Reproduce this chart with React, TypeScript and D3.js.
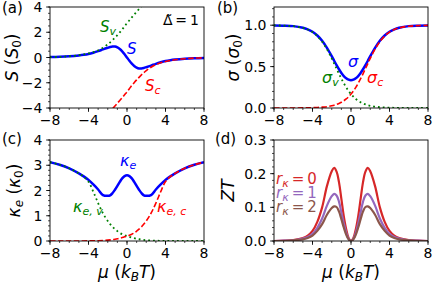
import React from "react";
import * as d3 from "d3";

// chemical potential grid (k_B T)
const mu = [-8, -7, -6, -5, -4.5, -4, -3.5, -3, -2.5, -2, -1.75, -1.5, -1.25, -1, -0.75, -0.5, -0.25, 0,
  0.25, 0.5, 0.75, 1, 1.25, 1.5, 1.75, 2, 2.5, 3, 3.5, 4, 4.5, 5, 6, 7, 8];

// (a) Seebeck
const seebeck = [0.03, 0.05, 0.09, 0.16, 0.21, 0.28, 0.38, 0.5, 0.64, 0.77, 0.83, 0.87, 0.87, 0.8, 0.67, 0.49, 0.26, 0,
  -0.26, -0.49, -0.67, -0.8, -0.87, -0.87, -0.83, -0.77, -0.64, -0.5, -0.38, -0.28, -0.21, -0.16, -0.09, -0.05, -0.03];
const seebeckV = [0.03, 0.05, 0.1, 0.18, 0.24, 0.32, 0.42, 0.56, 0.77, 1.04, 1.2, 1.38, 1.57, 1.77, 1.99, 2.22, 2.47, 2.72,
  2.95, 3.18, 3.4, 3.62, 3.84, 4.06, 4.28, 4.5];
const seebeckC = [null, null, null, null, null, null, null, null, null, -4.5, -4.28, -4.06, -3.84, -3.62, -3.4, -3.18, -2.95, -2.72,
  -2.47, -2.22, -1.99, -1.77, -1.57, -1.38, -1.2, -1.04, -0.77, -0.56, -0.42, -0.32, -0.24, -0.18, -0.1, -0.05, -0.03];

// (b) conductivity
const sigma = [0.998, 0.995, 0.989, 0.969, 0.95, 0.921, 0.876, 0.812, 0.727, 0.626, 0.571, 0.518, 0.468, 0.423, 0.386, 0.359, 0.342, 0.336,
  0.342, 0.359, 0.386, 0.423, 0.468, 0.518, 0.571, 0.626, 0.727, 0.812, 0.876, 0.921, 0.95, 0.969, 0.989, 0.995, 0.998];
const sigmaV = [0.998, 0.995, 0.988, 0.968, 0.948, 0.917, 0.87, 0.802, 0.711, 0.599, 0.537, 0.475, 0.413, 0.354, 0.299, 0.25, 0.206, 0.168,
  0.136, 0.109, 0.087, 0.069, 0.055, 0.043, 0.034, 0.027, 0.016, 0.01, 0.006, 0.004, 0.002, 0.001, 0.0005, 0.0002, 0.0001];
const sigmaC = [0.0001, 0.0002, 0.0005, 0.001, 0.002, 0.004, 0.006, 0.01, 0.016, 0.027, 0.034, 0.043, 0.055, 0.069, 0.087, 0.109, 0.136, 0.168,
  0.206, 0.25, 0.299, 0.354, 0.413, 0.475, 0.537, 0.599, 0.711, 0.802, 0.87, 0.917, 0.948, 0.968, 0.988, 0.995, 0.998];

// (c) electronic thermal conductivity
const kappa = [3.12, 3.02, 2.88, 2.68, 2.56, 2.42, 2.24, 2.04, 1.82, 1.79, 1.81, 1.9, 2.03, 2.18, 2.34, 2.48, 2.57, 2.6,
  2.57, 2.48, 2.34, 2.18, 2.03, 1.9, 1.81, 1.79, 1.82, 2.04, 2.24, 2.42, 2.56, 2.68, 2.88, 3.02, 3.12];
const kappaV = [3.12, 3.02, 2.88, 2.68, 2.55, 2.35, 1.95, 1.5, 1.1, 0.79, 0.67, 0.56, 0.47, 0.39, 0.32, 0.27, 0.23, 0.2,
  0.165, 0.135, 0.11, 0.088, 0.07, 0.055, 0.043, 0.034, 0.02, 0.012, 0.007, 0.004, 0.002, 0.001, 0.0004, 0.0001, 0];
const kappaC = [0, 0.0001, 0.0004, 0.001, 0.002, 0.004, 0.007, 0.012, 0.02, 0.034, 0.043, 0.055, 0.07, 0.088, 0.11, 0.135, 0.165, 0.2,
  0.23, 0.27, 0.32, 0.39, 0.47, 0.56, 0.67, 0.79, 1.1, 1.5, 1.95, 2.35, 2.55, 2.68, 2.88, 3.02, 3.12];

// (d) figure of merit
const zt0 = [0, 0.001, 0.003, 0.009, 0.016, 0.03, 0.057, 0.1, 0.163, 0.207, 0.217, 0.206, 0.175, 0.125, 0.074, 0.035, 0.009, 0,
  0.009, 0.035, 0.074, 0.125, 0.175, 0.206, 0.217, 0.207, 0.163, 0.1, 0.057, 0.03, 0.016, 0.009, 0.003, 0.001, 0];
const zt1 = [0, 0.001, 0.002, 0.007, 0.012, 0.021, 0.039, 0.067, 0.105, 0.133, 0.14, 0.135, 0.117, 0.085, 0.052, 0.025, 0.0065, 0,
  0.0065, 0.025, 0.052, 0.085, 0.117, 0.135, 0.14, 0.133, 0.105, 0.067, 0.039, 0.021, 0.012, 0.007, 0.002, 0.001, 0];
const zt2 = [0, 0, 0.002, 0.005, 0.009, 0.016, 0.03, 0.05, 0.078, 0.098, 0.103, 0.101, 0.088, 0.065, 0.04, 0.019, 0.005, 0,
  0.005, 0.019, 0.04, 0.065, 0.088, 0.101, 0.103, 0.098, 0.078, 0.05, 0.03, 0.016, 0.009, 0.005, 0.002, 0, 0];

const xTicks = [-8, -4, 0, 4, 8];
const xMinor = d3.range(-8, 8.01, 1);

const W = 154;
const H = 101;
const FONT = "DejaVu Sans";

const fmt = (v: number, digits: number) => v.toFixed(digits).replace("-", "\u2212");

function Panel({ id, left, top, yDomain, yTicks, yMinor, digits, tag, tagX, tagY, children }: any) {
  const x = d3.scaleLinear().domain([-8, 8]).range([0, W]);
  const y = d3.scaleLinear().domain(yDomain).range([H, 0]);
  return (
    <g transform={`translate(${left},${top})`}>
      <defs>
        <clipPath id={id}>
          <rect width={W} height={H} />
        </clipPath>
      </defs>
      <g clipPath={`url(#${id})`}>{children(x, y)}</g>
      <rect width={W} height={H} fill="none" stroke="#000" strokeWidth={0.9} />
      {xMinor.map((t) => (
        <line key={"xm" + t} x1={x(t)} x2={x(t)} y1={H} y2={H + 2} stroke="#000" strokeWidth={0.7} />
      ))}
      {xTicks.map((t) => (
        <g key={"x" + t}>
          <line x1={x(t)} x2={x(t)} y1={H} y2={H + 3.8} stroke="#000" strokeWidth={0.9} />
          <text x={x(t)} y={H + 17} textAnchor="middle" fontSize={14}>{fmt(t, 0)}</text>
        </g>
      ))}
      {yMinor.map((t: number) => (
        <line key={"ym" + t} x1={-2} x2={0} y1={y(t)} y2={y(t)} stroke="#000" strokeWidth={0.7} />
      ))}
      {yTicks.map((t: number) => (
        <g key={"y" + t}>
          <line x1={-3.8} x2={0} y1={y(t)} y2={y(t)} stroke="#000" strokeWidth={0.9} />
          <text x={-7.5} y={y(t)} dy="0.36em" textAnchor="end" fontSize={14}>{fmt(t, digits)}</text>
        </g>
      ))}
      <text x={tagX - left} y={tagY - top} fontSize={15}>{tag}</text>
    </g>
  );
}

const line = (x: any, y: any, ys: (number | null)[]) =>
  d3
    .line<number | null>()
    .defined((d) => d != null)
    .x((_, i) => x(mu[i]))
    .y((d) => y(d as number))
    .curve(d3.curveCatmullRom)(ys) || "";

export default function App() {
  const blue = "#0000ff";
  const green = "#008000";
  const red = "#ff0000";
  const dash = "5.5,2.4";
  const dot = "1.8,3";
  return (
    <svg width={436} height={291} style={{ position: "absolute", left: 0, top: 0, background: "#fff" }}
      fontFamily={FONT} fill="#000">
      {/* (a) */}
      <Panel id="ca" left={50} top={7} yDomain={[-4, 4]} yTicks={[-4, -2, 0, 2, 4]}
        yMinor={d3.range(-4, 4.01, 0.5)} digits={0} tag="(a)" tagX={2} tagY={13}>
        {(x: any, y: any) => (
          <>
            <path d={line(x, y, seebeck)} fill="none" stroke={blue} strokeWidth={2.5} />
            <path d={line(x, y, seebeckV)} fill="none" stroke={green} strokeWidth={1.8} strokeDasharray={dot} />
            <path d={line(x, y, seebeckC)} fill="none" stroke={red} strokeWidth={1.6} strokeDasharray={dash} />
          </>
        )}
      </Panel>
      {/* (b) */}
      <Panel id="cb" left={274} top={7} yDomain={[0, 1.22]} yTicks={[0, 0.5, 1]}
        yMinor={d3.range(0, 1.21, 0.1)} digits={1} tag="(b)" tagX={217} tagY={13}>
        {(x: any, y: any) => (
          <>
            <path d={line(x, y, sigma)} fill="none" stroke={blue} strokeWidth={2.5} />
            <path d={line(x, y, sigmaV)} fill="none" stroke={green} strokeWidth={1.8} strokeDasharray={dot} />
            <path d={line(x, y, sigmaC)} fill="none" stroke={red} strokeWidth={1.6} strokeDasharray={dash} />
          </>
        )}
      </Panel>
      {/* (c) */}
      <Panel id="cc" left={50} top={140} yDomain={[0, 4]} yTicks={[0, 1, 2, 3, 4]}
        yMinor={d3.range(0, 4.01, 0.2)} digits={0} tag="(c)" tagX={2} tagY={144}>
        {(x: any, y: any) => (
          <>
            <path d={line(x, y, kappa)} fill="none" stroke={blue} strokeWidth={2.5} />
            <path d={line(x, y, kappaV)} fill="none" stroke={green} strokeWidth={1.8} strokeDasharray={dot} />
            <path d={line(x, y, kappaC)} fill="none" stroke={red} strokeWidth={1.6} strokeDasharray={dash} />
          </>
        )}
      </Panel>
      {/* (d) */}
      <Panel id="cd" left={274} top={140} yDomain={[0, 0.3]} yTicks={[0, 0.1, 0.2, 0.3]}
        yMinor={d3.range(0, 0.301, 0.02)} digits={1} tag="(d)" tagX={215} tagY={144}>
        {(x: any, y: any) => (
          <>
            <path d={line(x, y, zt0)} fill="none" stroke="#d62728" strokeWidth={2.2} />
            <path d={line(x, y, zt1)} fill="none" stroke="#9467bd" strokeWidth={2.2} />
            <path d={line(x, y, zt2)} fill="none" stroke="#8c564b" strokeWidth={2.2} />
          </>
        )}
      </Panel>

      {/* axis labels */}
      <text transform="translate(18,57.5) rotate(-90)" textAnchor="middle" fontSize={17}>
        <tspan fontStyle="italic">S</tspan> (<tspan fontStyle="italic">S</tspan>
        <tspan fontSize={12} dy={3}>0</tspan><tspan dy={-3}>)</tspan>
      </text>
      <text transform="translate(239,57.5) rotate(-90)" textAnchor="middle" fontSize={17}>
        <tspan fontStyle="italic">σ</tspan> (<tspan fontStyle="italic">σ</tspan>
        <tspan fontSize={12} dy={3}>0</tspan><tspan dy={-3}>)</tspan>
      </text>
      <text transform="translate(20,190.5) rotate(-90)" textAnchor="middle" fontSize={17}>
        <tspan fontStyle="italic">κ</tspan><tspan fontSize={12} dy={3} fontStyle="italic">e</tspan>
        <tspan dy={-3}> (</tspan><tspan fontStyle="italic">κ</tspan>
        <tspan fontSize={12} dy={3}>0</tspan><tspan dy={-3}>)</tspan>
      </text>
      <text transform="translate(234,190.5) rotate(-90)" textAnchor="middle" fontSize={17} fontStyle="italic">ZT</text>
      {[127, 351].map((cx) => (
        <text key={cx} x={cx} y={278} textAnchor="middle" fontSize={17}>
          <tspan fontStyle="italic">μ</tspan> (<tspan fontStyle="italic">k</tspan>
          <tspan fontSize={12} dy={3} fontStyle="italic">B</tspan>
          <tspan dy={-3} fontStyle="italic">T</tspan>)
        </text>
      ))}

      {/* annotations (a) */}
      <text x={163} y={24.5} fontSize={14}>{"\u0394\u0303\u2009=\u20091"}</text>
      <text x={100} y={32} fontSize={15} fill={green} fontStyle="italic">
        S<tspan fontSize={11} dy={3}>v</tspan>
      </text>
      <text x={127} y={54} fontSize={15} fill={blue} fontStyle="italic">S</text>
      <text x={145} y={91} fontSize={15} fill={red} fontStyle="italic">
        S<tspan fontSize={11} dy={3}>c</tspan>
      </text>
      {/* annotations (b) */}
      <text x={348} y={67} fontSize={16} fill={blue} fontStyle="italic">σ</text>
      <text x={322} y={83} fontSize={16} fill={green} fontStyle="italic">
        σ<tspan fontSize={11} dy={3}>v</tspan>
      </text>
      <text x={367} y={83} fontSize={16} fill={red} fontStyle="italic">
        σ<tspan fontSize={11} dy={3}>c</tspan>
      </text>
      {/* annotations (c) */}
      <text x={120} y={166} fontSize={16} fill={blue} fontStyle="italic">
        κ<tspan fontSize={11} dy={3}>e</tspan>
      </text>
      <text x={73} y={212} fontSize={16} fill={green} fontStyle="italic">
        κ<tspan fontSize={11} dy={3}>e, v</tspan>
      </text>
      <text x={157} y={212} fontSize={16} fill={red} fontStyle="italic">
        κ<tspan fontSize={11} dy={3}>e, c</tspan>
      </text>
      {/* annotations (d) */}
      {[
        { label: "0", color: "#d62728", y: 184 },
        { label: "1", color: "#9467bd", y: 198 },
        { label: "2", color: "#8c564b", y: 212 },
      ].map((r) => (
        <text key={r.label} x={276} y={r.y} fontSize={15} fill={r.color}>
          <tspan fontStyle="italic">r</tspan>
          <tspan fontSize={11} dy={2.5} fontStyle="italic">κ</tspan>
          <tspan dy={-2.5}>{"\u2009=\u2009" + r.label}</tspan>
        </text>
      ))}
    </svg>
  );
}
